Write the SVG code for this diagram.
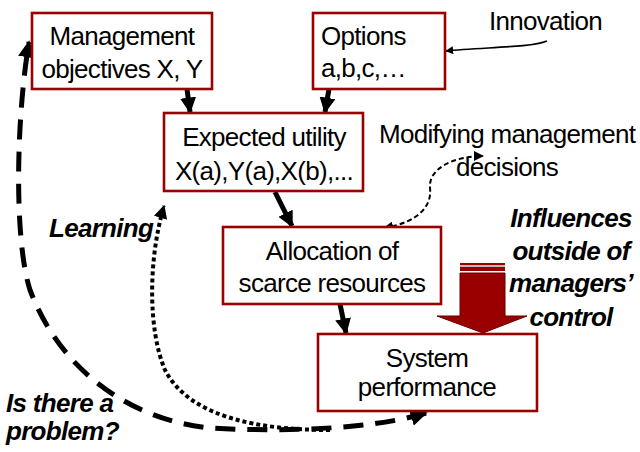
<svg xmlns="http://www.w3.org/2000/svg" width="640" height="452" viewBox="0 0 640 452">
<defs>
<style>
.box{fill:#fff;stroke:#990000;stroke-width:2.6}
.t{font-family:"Liberation Sans",Arial,sans-serif;font-size:26px;fill:#000;letter-spacing:-0.7px}
.c{text-anchor:middle}
.bi{font-weight:bold;font-style:italic}
.arr{stroke:#000;stroke-width:5;fill:none}
</style>
<marker id="ah" viewBox="0 0 10 10" refX="9" refY="5" markerWidth="3.2" markerHeight="3.2" orient="auto" markerUnits="strokeWidth">
<path d="M0,0 L10,5 L0,10 z" fill="#000"/>
</marker>
<marker id="ah2" viewBox="0 0 10 10" refX="9" refY="5" markerWidth="3.4" markerHeight="3.4" orient="auto-start-reverse" markerUnits="strokeWidth">
<path d="M0,0 L10,5 L0,10 z" fill="#000"/>
</marker>
<marker id="ahs" viewBox="0 0 10 10" refX="9" refY="5" markerWidth="5" markerHeight="5" orient="auto-start-reverse" markerUnits="strokeWidth">
<path d="M0,0 L10,5 L0,10 z" fill="#000"/>
</marker>
</defs>

<g id="connectors">
<line class="arr" x1="187" y1="89" x2="190" y2="112" marker-end="url(#ah)"/>
<line class="arr" x1="329" y1="89" x2="325" y2="112" marker-end="url(#ah)"/>
<line class="arr" x1="275" y1="192" x2="292" y2="226" marker-end="url(#ah)"/>
<line class="arr" x1="340" y1="304" x2="346" y2="333" marker-end="url(#ah)"/>
<path d="M547,41 C530,48 480,47 446,51" fill="none" stroke="#000" stroke-width="1.6" marker-end="url(#ahs)"/>
<path d="M384,228 C420,222 432,205 430,188 C428,168 455,156 483,156" fill="none" stroke="#000" stroke-width="2" stroke-dasharray="5 3" marker-start="url(#ahs)" marker-end="url(#ahs)"/>
<path d="M426,413 C370,430 280,432 210,428 C130,420 60,370 30,290 C14,240 16,120 29,42" fill="none" stroke="#000" stroke-width="5" stroke-dasharray="20 12" marker-start="url(#ah2)" marker-end="url(#ah2)"/>
<path d="M330,430 C260,430 190,418 165,370 C148,330 148,260 164,206" fill="none" stroke="#000" stroke-width="4" stroke-dasharray="4 3" marker-end="url(#ah2)"/>
<g id="outside-arrow">
<rect x="460" y="263" width="45" height="2" fill="#990000"/>
<rect x="460" y="265" width="45" height="2" fill="#bbbbbb"/>
<rect x="460" y="267" width="45" height="4" fill="#990000"/>
<polygon points="460,273 505,273 505,316 527,316 483,333 437,316 460,316" fill="#990000" stroke="#660000" stroke-width="1"/>
</g>
</g>

<g id="management">
<rect class="box" x="32" y="13" width="180" height="76"/>
<text class="t c" x="122" y="45">Management</text>
<text class="t c" x="122" y="78">objectives X, Y</text>
</g>
<g id="options">
<rect class="box" x="313" y="13" width="132" height="76"/>
<text class="t" x="321" y="45">Options</text>
<text class="t" x="321" y="77">a,b,c,…</text>
</g>
<g id="expected">
<rect class="box" x="164" y="113" width="199" height="78"/>
<text class="t c" x="264" y="146">Expected utility</text>
<text class="t c" x="264" y="180">X(a),Y(a),X(b),...</text>
</g>
<g id="allocation">
<rect class="box" x="223" y="227" width="218" height="77"/>
<text class="t c" x="332" y="260">Allocation of</text>
<text class="t c" x="332" y="292">scarce resources</text>
</g>
<g id="system">
<rect class="box" x="318" y="334" width="219" height="77"/>
<text class="t c" x="427" y="367">System</text>
<text class="t c" x="427" y="396">performance</text>
</g>

<g id="labels">
<text class="t" x="489" y="30">Innovation</text>
<text class="t" x="379" y="143">Modifying management</text>
<text class="t" x="456" y="176">decisions</text>
<text class="t bi c" x="571" y="227">Influences</text>
<text class="t bi c" x="571" y="260">outside of</text>
<text class="t bi c" x="571" y="292">managers’</text>
<text class="t bi c" x="571" y="326">control</text>
<text class="t bi" x="49" y="237">Learning</text>
<text class="t bi" x="6" y="412">Is there a</text>
<text class="t bi" x="6" y="440">problem?</text>
</g>
</svg>
